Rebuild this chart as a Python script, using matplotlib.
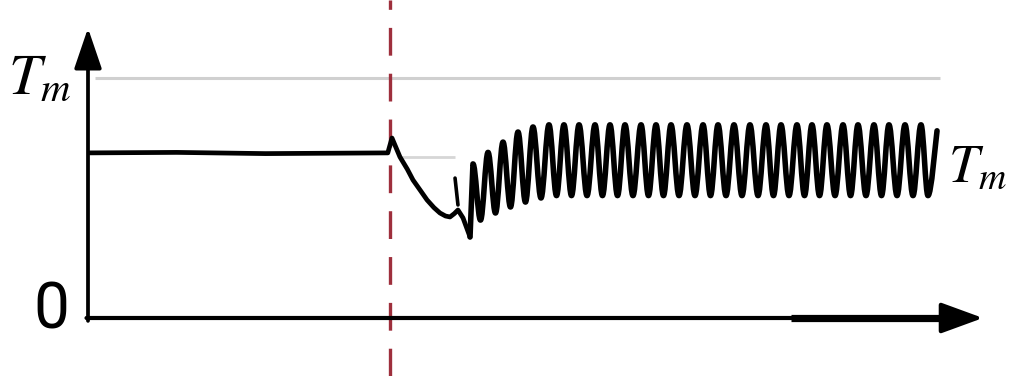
import matplotlib
matplotlib.use("Agg")
import matplotlib.pyplot as plt
from matplotlib.path import Path
from matplotlib.patches import PathPatch

plt.rcParams['mathtext.fontset'] = 'stix'
plt.rcParams['lines.scale_dashes'] = False

# ---------------- data (time t, torque v; Tm reference line = 1.0) ----------------
event_t = 3.405
pre_t = [0.02, 1.0, 2.0, 3.38]
pre_v = [0.688, 0.690, 0.685, 0.688]

dip_t = [3.38, 3.427, 3.517, 3.60, 3.664, 3.75, 3.822, 3.90, 3.968, 4.03, 4.081, 4.13, 4.171, 4.228, 4.307]
dip_v = [0.688, 0.75, 0.671, 0.62, 0.575, 0.53, 0.492, 0.46, 0.4375, 0.425, 0.421, 0.435, 0.45, 0.417, 0.3375]

glitch_t = [4.138, 4.171]
glitch_v = [0.583, 0.471]

peak_t = [4.340, 4.510, 4.679, 4.848, 5.017, 5.197, 5.366, 5.536, 5.716, 5.885,
          6.054, 6.235, 6.404, 6.573, 6.753, 6.934, 7.103, 7.283, 7.463, 7.644,
          7.813, 7.993, 8.162, 8.331, 8.512, 8.681, 8.861, 9.030, 9.211, 9.391]
peak_v = [0.642, 0.690, 0.733, 0.775, 0.796, 0.805, 0.805, 0.805, 0.805, 0.805,
          0.805, 0.805, 0.805, 0.805, 0.805, 0.805, 0.805, 0.805, 0.805, 0.805,
          0.805, 0.805, 0.805, 0.805, 0.805, 0.805, 0.805, 0.805, 0.805, 0.805]
trough_t = [4.425, 4.594, 4.763, 4.932, 5.107, 5.282, 5.451, 5.626, 5.800, 5.970,
            6.144, 6.319, 6.488, 6.663, 6.843, 7.018, 7.193, 7.373, 7.554, 7.728,
            7.903, 8.078, 8.247, 8.422, 8.597, 8.771, 8.946, 9.121, 9.301, 9.470]
trough_v = [0.408, 0.4375, 0.4625, 0.483, 0.500, 0.510, 0.510, 0.510, 0.510, 0.510,
            0.510, 0.510, 0.510, 0.510, 0.510, 0.510, 0.510, 0.510, 0.510, 0.510,
            0.510, 0.510, 0.510, 0.510, 0.510, 0.510, 0.510, 0.510, 0.510, 0.510]
end_t, end_v = 9.572, 0.78

upper_line_v = 1.0
upper_line_t = [0.08, 9.61]
ref_line_v = 0.671
ref_line_t = [3.52, 4.14]

# ---------------- figure ----------------
W, H = 1010, 376
fig = plt.figure(figsize=(W / 100, H / 100), dpi=100)
ax = fig.add_axes([0, 0, 1, 1])
px_t, px_v = 88.7, 240.0
ox, oy = 88, 318
ax.set_xlim(-ox / px_t, (W - ox) / px_t)
ax.set_ylim((oy - H) / px_v, oy / px_v)
ax.axis('off')

# grey reference lines
ax.plot(upper_line_t, [upper_line_v] * 2, color='#d0d0d0', lw=2.2, solid_capstyle='butt', zorder=1)
ax.plot(ref_line_t, [ref_line_v] * 2, color='#d6d6d6', lw=2.0, solid_capstyle='butt', zorder=1)

# axes with arrows
ax.annotate('', xy=(0, 1.208), xytext=(0, -0.012),
            arrowprops=dict(arrowstyle='-|>,head_length=2.5,head_width=0.85', lw=2.7,
                            color='black', shrinkA=0, shrinkB=0, mutation_scale=10), zorder=3)
ax.annotate('', xy=(10.09, 0), xytext=(-0.017, 0),
            arrowprops=dict(arrowstyle='-|>,head_length=2.6,head_width=0.95', lw=3.0,
                            color='black', shrinkA=0, shrinkB=0, mutation_scale=10), zorder=3)
ax.plot([7.92, 9.66], [0, 0], color='black', lw=5.2, solid_capstyle='butt', zorder=3)

# event marker
ax.plot([event_t, event_t], [(oy - H) / px_v, oy / px_v], color='#9e2f3c',
        lw=2.4, dashes=(20, 13), zorder=2)

# signal
ax.plot(pre_t + dip_t[1:], pre_v + dip_v[1:], color='black', lw=3.4,
        solid_joinstyle='round', solid_capstyle='round', zorder=4)
ax.plot(glitch_t, glitch_v, color='black', lw=2.6, solid_capstyle='round', zorder=4)

ext_t, ext_v = [], []
for a, b, c, d in zip(peak_t, peak_v, trough_t, trough_v):
    ext_t += [a, c]
    ext_v += [b, d]
verts = [(dip_t[-1], dip_v[-1]), (ext_t[0], ext_v[0])]
codes = [Path.MOVETO, Path.LINETO]
for i in range(len(ext_t) - 1):
    x0, y0, x1, y1 = ext_t[i], ext_v[i], ext_t[i + 1], ext_v[i + 1]
    h = (x1 - x0) * 0.36
    verts += [(x0 + h, y0), (x1 - h, y1), (x1, y1)]
    codes += [Path.CURVE4] * 3
x0, y0 = ext_t[-1], ext_v[-1]
h = (end_t - x0) * 0.36
verts += [(x0 + h, y0), (end_t - h * 0.5, end_v - 0.05), (end_t, end_v)]
codes += [Path.CURVE4] * 3
ax.add_patch(PathPatch(Path(verts, codes), facecolor='none', edgecolor='black', lw=4.0,
                       joinstyle='round', capstyle='round', zorder=4))

# labels
ax.text(-0.90, 1.00, r'$T_m$', fontsize=42, ha='left', va='center', zorder=5)
ax.text(9.70, 0.63, r'$T_m$', fontsize=39, ha='left', va='center', zorder=5)
ax.text(-0.41, 0.03, '0', fontsize=46, ha='center', va='center',
        family=['Roboto', 'DejaVu Sans'], zorder=5)

fig.savefig('out.png', dpi=100)
